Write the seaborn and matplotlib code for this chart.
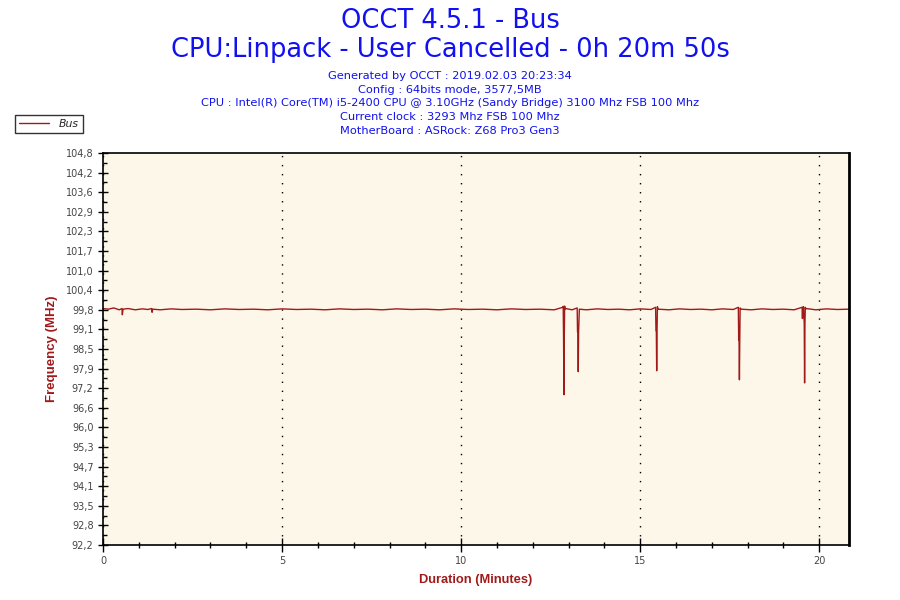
import numpy as np
import pandas as pd
import matplotlib
matplotlib.use("Agg")
import matplotlib.pyplot as plt
import seaborn as sns
from matplotlib.ticker import MultipleLocator, FixedLocator

# Bus frequency samples (minutes, MHz)
time_min = [0.00, 0.15, 0.30, 0.45, 0.53, 0.54, 0.56, 0.70, 0.90, 1.10, 1.25, 1.36, 1.37, 1.39,
            1.60, 1.90, 2.20, 2.60, 3.00, 3.40, 3.80, 4.20, 4.60, 5.00, 5.40, 5.80, 6.20, 6.60,
            7.00, 7.40, 7.80, 8.20, 8.60, 9.00, 9.40, 9.80, 10.20, 10.60, 11.00, 11.40, 11.80,
            12.20, 12.60, 12.84, 12.85, 12.86, 12.87, 12.88, 12.89, 12.90, 12.92, 13.10, 13.24,
            13.25, 13.26, 13.27, 13.28, 13.30, 13.50, 13.80, 14.10, 14.40, 14.70, 15.00, 15.30,
            15.43, 15.44, 15.45, 15.46, 15.47, 15.48, 15.50, 15.80, 16.10, 16.40, 16.70, 17.00,
            17.30, 17.60, 17.74, 17.75, 17.76, 17.77, 17.78, 17.79, 17.82, 18.10, 18.40, 18.70,
            19.00, 19.30, 19.52, 19.53, 19.54, 19.56, 19.58, 19.59, 19.60, 19.61, 19.62, 19.64,
            19.90, 20.20, 20.50, 20.83]
bus_mhz = [99.80, 99.78, 99.82, 99.76, 99.80, 99.60, 99.78, 99.80, 99.76, 99.79, 99.77, 99.80, 99.68, 99.78,
           99.76, 99.79, 99.77, 99.78, 99.76, 99.79, 99.77, 99.78, 99.76, 99.79, 99.77, 99.78, 99.76, 99.79,
           99.77, 99.78, 99.76, 99.79, 99.77, 99.78, 99.76, 99.79, 99.77, 99.78, 99.76, 99.79, 99.77,
           99.78, 99.76, 99.84, 99.87, 98.83, 97.03, 98.83, 99.88, 99.78, 99.80, 99.76, 99.82,
           99.05, 99.05, 97.77, 99.05, 99.78, 99.76, 99.79, 99.77, 99.78, 99.76, 99.79, 99.77,
           99.84, 99.09, 99.09, 97.80, 99.09, 99.86, 99.78, 99.76, 99.79, 99.77, 99.78, 99.76,
           99.79, 99.77, 99.84, 98.79, 98.79, 97.51, 98.79, 99.82, 99.78, 99.76, 99.79, 99.77,
           99.78, 99.76, 99.84, 99.48, 99.84, 99.86, 99.32, 97.41, 99.32, 99.84, 99.78, 99.80,
           99.76, 99.79, 99.77, 99.78]

y_ticks = [92.2, 92.83, 93.46, 94.09, 94.72, 95.35, 95.98, 96.61, 97.24, 97.87, 98.5,
           99.13, 99.76, 100.39, 101.02, 101.65, 102.28, 102.91, 103.54, 104.17, 104.8]
y_tick_labels = ["92,2", "92,8", "93,5", "94,1", "94,7", "95,3", "96,0", "96,6", "97,2", "97,9", "98,5",
                 "99,1", "99,8", "100,4", "101,0", "101,7", "102,3", "102,9", "103,6", "104,2", "104,8"]
x_ticks = [0, 5, 10, 15, 20]

title_lines = ["OCCT 4.5.1 - Bus", "CPU:Linpack - User Cancelled - 0h 20m 50s"]
info_lines = ["Generated by OCCT : 2019.02.03 20:23:34",
              "Config : 64bits mode, 3577,5MB",
              "CPU : Intel(R) Core(TM) i5-2400 CPU @ 3.10GHz (Sandy Bridge) 3100 Mhz FSB 100 Mhz",
              "Current clock : 3293 Mhz FSB 100 Mhz",
              "MotherBoard : ASRock: Z68 Pro3 Gen3"]

df = pd.DataFrame({"Duration": time_min, "Bus": bus_mhz})

sns.set_style("white")
plt.rcParams['font.family'] = ['DejaVu Sans']

fig = plt.figure(figsize=(9, 6), dpi=100)
ax = fig.add_axes([103/900, 1-545/600, 746/900, 392/600])
ax.set_facecolor("#fdf7e9")

line_col = "#a01a1a"
sns.lineplot(data=df, x="Duration", y="Bus", ax=ax, color=line_col, linewidth=1.0, label="Bus", legend=False)

ax.set_xlim(0, 20.83)
ax.set_ylim(92.2, 104.8)
ax.xaxis.set_major_locator(FixedLocator(x_ticks))
ax.xaxis.set_minor_locator(MultipleLocator(1))
ax.yaxis.set_major_locator(FixedLocator(y_ticks))
ax.yaxis.set_minor_locator(FixedLocator([(a + b) / 2 for a, b in zip(y_ticks[:-1], y_ticks[1:])]))
ax.set_yticklabels(y_tick_labels)
ax.set_xticklabels([str(t) for t in x_ticks])
ax.tick_params(which="both", color="black", width=1, left=True, bottom=True)
ax.tick_params(axis="y", which="major", direction="inout", length=7.5,
               labelsize=7, labelcolor="#444444", pad=3)
ax.tick_params(axis="y", which="minor", direction="in", length=3)
ax.tick_params(axis="x", which="major", direction="inout", length=9.5,
               labelsize=7, labelcolor="#444444", pad=3)
ax.tick_params(axis="x", which="minor", direction="inout", length=4.5)

ax.grid(axis="x", which="major", color="black", linestyle=(0, (1, 5.5)), linewidth=1)
for s in ["left", "bottom", "top"]:
    ax.spines[s].set_color("black")
    ax.spines[s].set_linewidth(1.2)
ax.spines["right"].set_color("black")
ax.spines["right"].set_linewidth(2)

ax.set_xlabel("Duration (Minutes)", fontsize=9.3, fontweight="bold", color="#a01a1a",
              family="Liberation Sans", labelpad=6)
ax.set_ylabel("Frequency (MHz)", fontsize=9.5, fontweight="bold", color="#a01a1a",
              family="Liberation Sans", labelpad=6)

blue = "#1010f0"
fig.text(0.5, 1-21/600, title_lines[0], ha="center", va="center", fontsize=18.5, color=blue)
fig.text(0.5, 1-50/600, title_lines[1], ha="center", va="center", fontsize=18.5, color=blue)
for i, t in enumerate(info_lines):
    fig.text(0.5, 1-(76+i*13.7)/600, t, ha="center", va="center", fontsize=8.2, color=blue)

handles, labels = ax.get_legend_handles_labels()
leg = fig.legend(handles, labels, loc="upper left", bbox_to_anchor=(15/900, 1-115/600),
                 frameon=True, fancybox=False, edgecolor="black", fontsize=7.8,
                 handlelength=2.8, borderpad=0.35, borderaxespad=0, handletextpad=0.9)
leg.get_frame().set_linewidth(1)
for t in leg.get_texts():
    t.set_fontstyle("italic")

fig.savefig("out.png", dpi=100, facecolor="white")
